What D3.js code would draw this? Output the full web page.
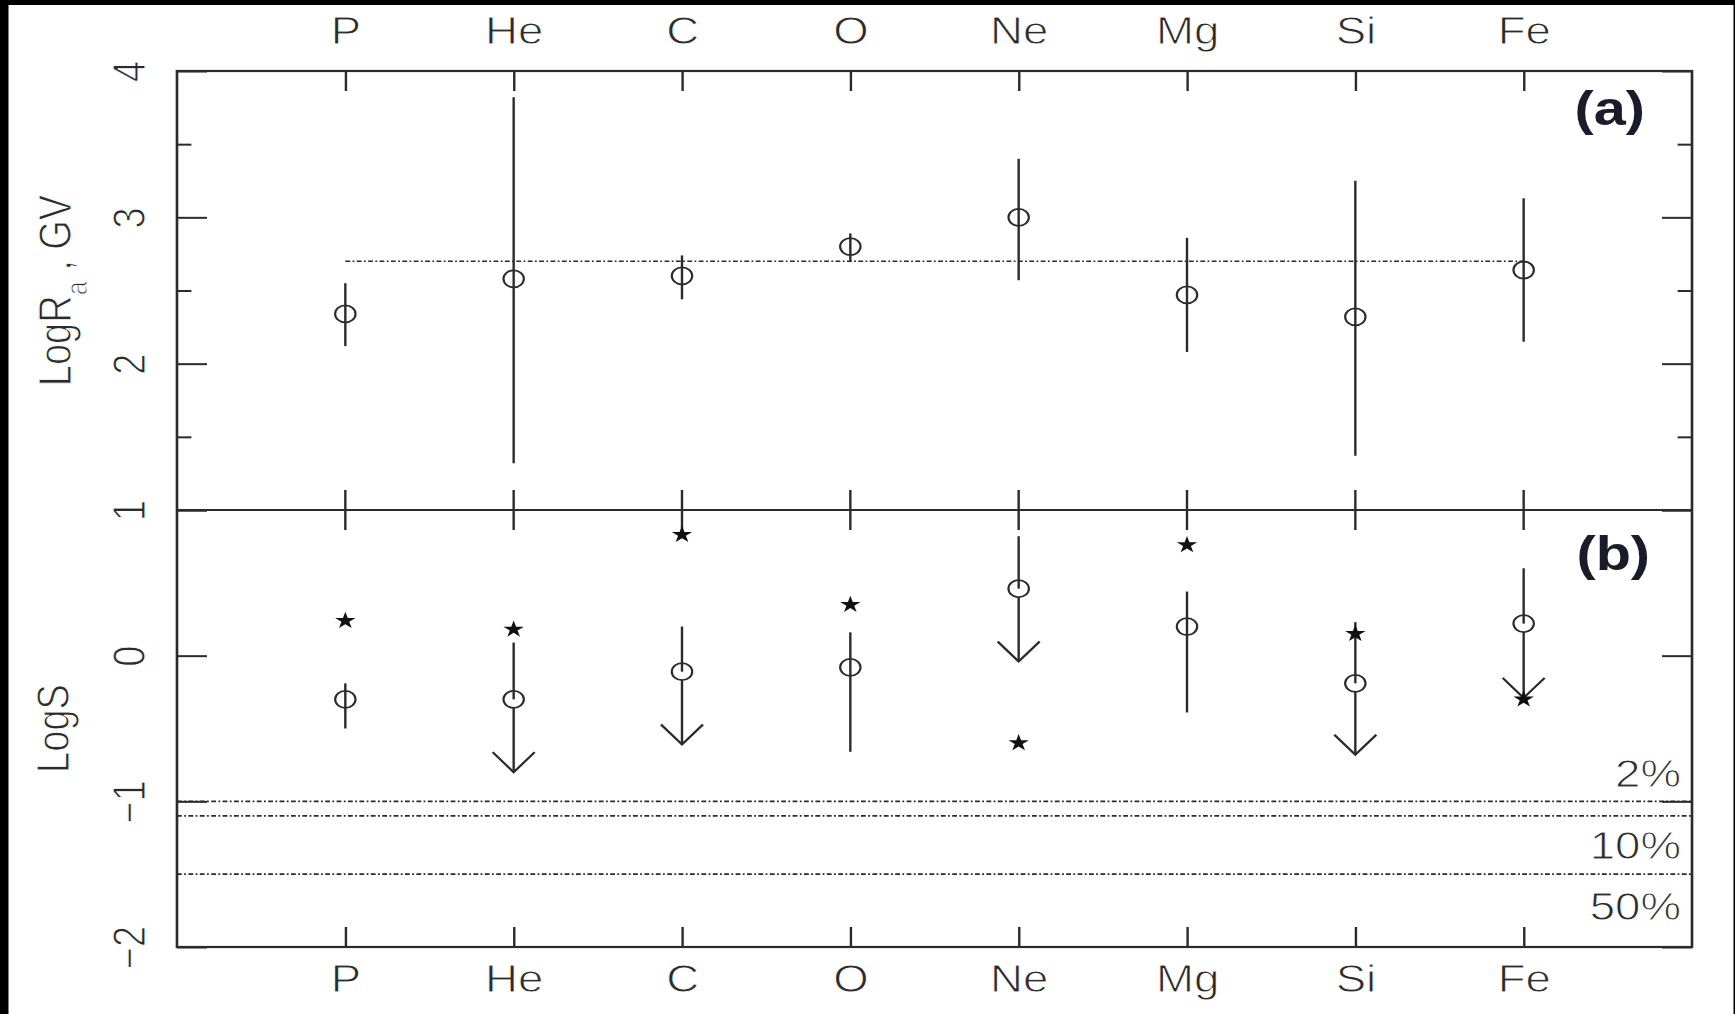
<!DOCTYPE html>
<html>
<head>
<meta charset="utf-8">
<script src="https://cdn.jsdelivr.net/npm/d3@7"></script>
<style>
    body { margin: 0; background: #000; }
    svg { display: block; }
    text { font-family: "Liberation Sans", Arial, Helvetica, sans-serif; }
    text.thin { stroke: #fff; stroke-width: 0.9px; }
</style>
</head>
<body>
<svg id="chart"></svg>
<script>
// elements along the x axis
const elements = ["P", "He", "C", "O", "Ne", "Mg", "Si", "Fe"];

// panel (a): LogRa, GV with error bars
const logR = [2.34, 2.58, 2.60, 2.80, 3.00, 2.47, 2.32, 2.64];
const logRLo = [2.12, 1.32, 2.44, 2.70, 2.57, 2.08, 1.37, 2.15];
const logRHi = [2.55, 3.82, 2.74, 2.89, 3.40, 2.86, 3.25, 3.13];
const logRMean = 2.7;

// panel (b): LogS, open circles with bars or upper-limit arrows, stars
const logS = [-0.30, -0.30, -0.11, -0.08, 0.46, 0.20, -0.19, 0.22];
const logSHi = [-0.19, 0.09, 0.20, 0.16, 0.82, 0.44, 0.23, 0.60];
const logSLo = [-0.50, -0.80, -0.61, -0.66, -0.04, -0.39, -0.68, -0.29];
const upperLimit = [false, true, true, false, true, false, true, true];
const logSStar = [0.24, 0.18, 0.83, 0.35, -0.60, 0.76, 0.15, -0.30];

// significance levels in panel (b)
const levels = [-1.0, -1.1, -1.5];
const levelLabels = ["2%", "10%", "50%"];

// axis ticks
const topTicks = [1, 1.5, 2, 2.5, 3, 3.5, 4];
const topTickLabels = [4, 3, 2];
const botTicks = [-2, -1, 0, 1];
const botTickLabels = [1, 0, -1, -2];

const width = 1735;
const height = 1014;
const sx = 1.2; // the original figure is stretched horizontally
const frame = { left: 177, right: 1692, top: 71, mid: 510, bottom: 947 };
const fontSize = 38;
const ink = "#2b2b2b";
const dash = "4,2,1.5,2";
const r = 8.5;

const svg = d3.select("#chart")
    .attr("width", width)
    .attr("height", height);

// white paper with the black edges of the scan
svg.append("rect")
    .attr("x", 8.5).attr("y", 5)
    .attr("width", 1725).attr("height", height - 5)
    .attr("fill", "#fff");

const g = svg.append("g").attr("transform", `scale(${sx},1)`);

const x = d3.scalePoint()
    .domain(elements)
    .range([frame.left / sx, frame.right / sx])
    .padding(1);

const yTop = d3.scaleLinear().domain([1, 4]).range([frame.mid, frame.top]);
const yBot = d3.scaleLinear().domain([-2, 1]).range([frame.bottom, frame.mid]);

const L = frame.left / sx;
const R = frame.right / sx;

// y axes, ticks pointing inward
function yAxes(scale, ticks, labels) {
    const left = g.append("g")
        .attr("transform", `translate(${L},0)`)
        .call(d3.axisLeft(scale).tickValues(ticks).tickSize(-25)
            .tickFormat(d => labels.includes(d) ? (d < 0 ? "\u2212" + Math.abs(d) : d) : ""));
    left.select(".domain").remove();
    left.selectAll(".tick line")
        .attr("x2", d => d % 1 === 0 ? 25 : 12)
        .attr("stroke", ink).attr("stroke-width", 2);
    left.selectAll(".tick text")
        .attr("class", "thin")
        .attr("transform", "rotate(-90)")
        .attr("x", 0).attr("y", -26.7).attr("dy", 0)
        .attr("text-anchor", "middle")
        .attr("font-size", fontSize)
        .attr("fill", ink);

    const right = g.append("g")
        .attr("transform", `translate(${R},0)`)
        .call(d3.axisRight(scale).tickValues(ticks).tickSize(-25).tickFormat(""));
    right.select(".domain").remove();
    right.selectAll(".tick line")
        .attr("x2", d => d % 1 === 0 ? -25 : -12)
        .attr("stroke", ink).attr("stroke-width", 2);
}
yAxes(yTop, topTicks, topTickLabels);
yAxes(yBot, botTicks, botTickLabels);

// x axes: top with labels, bottom with labels, ticks across the panel border
const xTop = g.append("g")
    .attr("transform", `translate(0,${frame.top})`)
    .call(d3.axisTop(x).tickSize(-20));
xTop.select(".domain").remove();
xTop.selectAll(".tick line").attr("stroke", ink).attr("stroke-width", 2);
xTop.selectAll(".tick text")
    .attr("class", "thin")
    .attr("y", -(frame.top - 44)).attr("dy", 0)
    .attr("font-size", fontSize).attr("fill", ink);

const xBot = g.append("g")
    .attr("transform", `translate(0,${frame.bottom})`)
    .call(d3.axisBottom(x).tickSize(-20));
xBot.select(".domain").remove();
xBot.selectAll(".tick line").attr("stroke", ink).attr("stroke-width", 2);
xBot.selectAll(".tick text")
    .attr("class", "thin")
    .attr("y", 992 - frame.bottom).attr("dy", 0)
    .attr("font-size", fontSize).attr("fill", ink);

g.append("g")
    .selectAll("line")
    .data(elements)
    .join("line")
    .attr("x1", d => x(d)).attr("x2", d => x(d))
    .attr("y1", frame.mid - 20).attr("y2", frame.mid + 20)
    .attr("stroke", ink).attr("stroke-width", 2);

// frame and panel border
g.append("rect")
    .attr("x", L).attr("y", frame.top)
    .attr("width", R - L).attr("height", frame.bottom - frame.top)
    .attr("fill", "none").attr("stroke", ink).attr("stroke-width", 2.2);
g.append("line")
    .attr("x1", L).attr("x2", R)
    .attr("y1", frame.mid).attr("y2", frame.mid)
    .attr("stroke", ink).attr("stroke-width", 2.2);

// axis titles
const titleA = g.append("text")
    .attr("class", "thin")
    .attr("transform", `translate(${71 / sx},${(frame.top + frame.mid) / 2}) rotate(-90)`)
    .attr("text-anchor", "middle")
    .attr("font-size", fontSize)
    .attr("fill", ink);
titleA.append("tspan").text("LogR");
titleA.append("tspan").attr("dy", 13).attr("font-size", 25).text("a");
titleA.append("tspan").attr("dy", -13).text(" ,  GV");

g.append("text")
    .attr("class", "thin")
    .attr("transform", `translate(${69 / sx},${(frame.mid + frame.bottom) / 2}) rotate(-90)`)
    .attr("text-anchor", "middle")
    .attr("font-size", fontSize)
    .attr("fill", ink)
    .text("LogS");

// panel tags
g.append("text")
    .attr("x", 1645 / sx).attr("y", 125)
    .attr("text-anchor", "end")
    .attr("font-size", 48).attr("font-weight", "bold")
    .attr("fill", "#1b1b2b")
    .text("(a)");
g.append("text")
    .attr("x", 1650 / sx).attr("y", 570)
    .attr("text-anchor", "end")
    .attr("font-size", 48).attr("font-weight", "bold")
    .attr("fill", "#1b1b2b")
    .text("(b)");

// ---- panel (a) ----
g.append("line")
    .attr("x1", x(elements[0])).attr("x2", x(elements[elements.length - 1]))
    .attr("y1", yTop(logRMean)).attr("y2", yTop(logRMean))
    .attr("stroke", ink).attr("stroke-width", 1.6)
    .attr("stroke-dasharray", dash);

g.append("g")
    .selectAll("line")
    .data(elements)
    .join("line")
    .attr("x1", d => x(d)).attr("x2", d => x(d))
    .attr("y1", (d, i) => yTop(logRHi[i]))
    .attr("y2", (d, i) => yTop(logRLo[i]))
    .attr("stroke", ink).attr("stroke-width", 2);

g.append("g")
    .selectAll("circle")
    .data(elements)
    .join("circle")
    .attr("cx", d => x(d))
    .attr("cy", (d, i) => yTop(logR[i]))
    .attr("r", r)
    .attr("fill", "none").attr("stroke", ink).attr("stroke-width", 1.8);

// ---- panel (b) ----
g.append("g")
    .selectAll("line")
    .data(levels)
    .join("line")
    .attr("x1", L).attr("x2", R)
    .attr("y1", d => yBot(d)).attr("y2", d => yBot(d))
    .attr("stroke", ink).attr("stroke-width", 1.6)
    .attr("stroke-dasharray", dash);

const levelDy = [-14, 43.5, 45.7];
g.append("g")
    .selectAll("text")
    .data(levels)
    .join("text")
    .attr("class", "thin")
    .attr("x", 1681 / sx)
    .attr("y", (d, i) => yBot(d) + levelDy[i])
    .attr("text-anchor", "end")
    .attr("font-size", fontSize)
    .attr("fill", ink)
    .text((d, i) => levelLabels[i]);

const bars = g.append("g");
elements.forEach((e, i) => {
    const cx = x(e);
    const cy = yBot(logS[i]);
    if (upperLimit[i]) {
        const tip = yBot(logSLo[i]);
        bars.append("line")
            .attr("x1", cx).attr("x2", cx)
            .attr("y1", yBot(logSHi[i])).attr("y2", cy)
            .attr("stroke", ink).attr("stroke-width", 2);
        bars.append("line")
            .attr("x1", cx).attr("x2", cx)
            .attr("y1", cy + r).attr("y2", tip)
            .attr("stroke", ink).attr("stroke-width", 2);
        bars.append("path")
            .attr("d", `M${cx - 17.5},${tip - 20}L${cx},${tip}L${cx + 17.5},${tip - 20}`)
            .attr("fill", "none").attr("stroke", ink).attr("stroke-width", 2);
    } else {
        bars.append("line")
            .attr("x1", cx).attr("x2", cx)
            .attr("y1", yBot(logSHi[i])).attr("y2", yBot(logSLo[i]))
            .attr("stroke", ink).attr("stroke-width", 2);
    }
});

g.append("g")
    .selectAll("circle")
    .data(elements)
    .join("circle")
    .attr("cx", d => x(d))
    .attr("cy", (d, i) => yBot(logS[i]))
    .attr("r", r)
    .attr("fill", "none").attr("stroke", ink).attr("stroke-width", 1.8);

g.append("g")
    .selectAll("path")
    .data(elements)
    .join("path")
    .attr("transform", (d, i) => `translate(${x(d)},${yBot(logSStar[i])})`)
    .attr("d", d3.symbol(d3.symbolStar, 90))
    .attr("fill", "#111");
</script>
</body>
</html>
